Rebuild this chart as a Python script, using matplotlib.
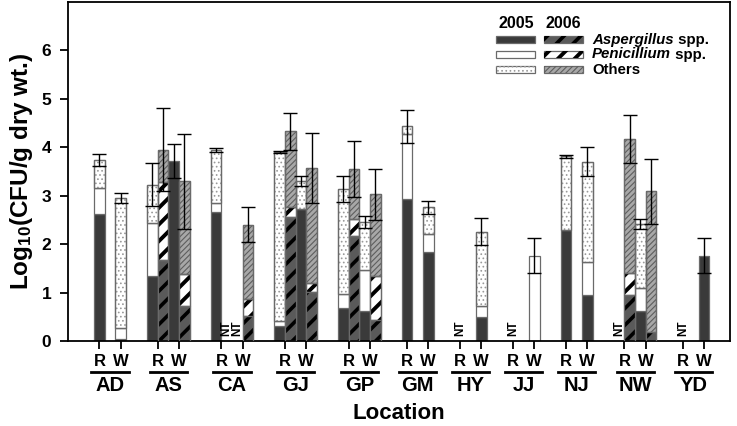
import numpy as np
import matplotlib.pyplot as plt
from matplotlib.patches import Rectangle
from matplotlib.lines import Line2D

plt.rcParams['font.family'] = ['Liberation Sans', 'DejaVu Sans']
plt.rcParams['font.weight'] = 'bold'
plt.rcParams['mathtext.fontset'] = 'custom'
plt.rcParams['mathtext.rm'] = 'Liberation Sans:bold'
plt.rcParams['mathtext.default'] = 'rm'

nan = np.nan
locations = ['AD', 'AS', 'CA', 'GJ', 'GP', 'GM', 'HY', 'JJ', 'NJ', 'NW', 'YD']
sites = ['R', 'W']

# order: AD-R, AD-W, AS-R, AS-W, ... (nan = no bar)
asp_2005 = [2.62, 0.05, 1.35, 3.71, 2.67, nan, 0.31, 2.73, 0.68, 0.61, 2.93,
            1.83, nan, 0.50, nan, 0.00, 2.30, 0.95, nan, 0.62, nan, 1.76]
pen_2005 = [0.54, 0.21, 1.08, 0.00, 0.18, nan, 0.10, 0.00, 0.29, 0.86, 1.35,
            0.38, nan, 0.23, nan, 1.76, 0.00, 0.69, nan, 0.48, nan, 0.00]
oth_2005 = [0.58, 2.69, 0.80, 0.00, 1.10, nan, 3.49, 0.57, 2.17, 0.99, 0.15,
            0.55, nan, 1.53, nan, 0.00, 1.51, 2.06, nan, 1.32, nan, 0.00]
err_2005 = [0.13, 0.10, 0.45, 0.35, 0.04, nan, 0.02, 0.10, 0.27, 0.13, 0.35,
            0.14, nan, 0.28, nan, 0.36, 0.03, 0.30, nan, 0.10, nan, 0.36]

asp_2006 = [nan, nan, 1.68, 0.72, nan, 0.52, 2.57, 1.02, 2.16, 0.43, nan,
            nan, nan, nan, nan, nan, nan, nan, 0.94, 0.19, nan, nan]
pen_2006 = [nan, nan, 1.60, 0.66, nan, 0.34, 0.19, 0.17, 0.36, 0.92, nan,
            nan, nan, nan, nan, nan, nan, nan, 0.47, 0.00, nan, nan]
oth_2006 = [nan, nan, 0.67, 1.92, nan, 1.54, 1.57, 2.38, 1.03, 1.68, nan,
            nan, nan, nan, nan, nan, nan, nan, 2.76, 2.90, nan, nan]
err_2006 = [nan, nan, 0.86, 0.98, nan, 0.36, 0.38, 0.73, 0.57, 0.53, nan,
            nan, nan, nan, nan, nan, nan, nan, 0.50, 0.67, nan, nan]

nt_2005 = ['CA-W', 'HY-R', 'JJ-R', 'NW-R', 'YD-R']
nt_2006 = ['CA-R']

keys = [f'{loc}-{s}' for loc in locations for s in sites]

# bar styles: (facecolor, hatch, hatch colour, hatch linewidth)
style = {
    ('2005', 'asp'): ('#3a3a3a', None, None, 0),
    ('2006', 'asp'): ('#5a5a5a', '//', 'black', 2.6),
    ('2005', 'pen'): ('white', None, None, 0),
    ('2006', 'pen'): ('white', '//', 'black', 2.8),
    ('2005', 'oth'): ('white', '....', '#9a9a9a', 0.7),
    ('2006', 'oth'): ('#a8a8a8', '//////', '#5e5e5e', 0.8),
}
edge = '#6a6a6a'

# layout of groups
two_year = []
for i, loc in enumerate(locations):
    has06 = any(not np.isnan(asp_2006[2 * i + j]) for j in range(2))
    has06 = has06 or any(f'{loc}-{s}' in nt_2006 for s in sites)
    two_year.append(has06)
half = [2.0 if t else 1.5 for t in two_year]
gap = 2.0
centers = [0.0]
for i in range(1, len(locations)):
    centers.append(centers[-1] + half[i - 1] + gap + half[i])

site_x = []
for c in centers:
    site_x += [c - 1, c + 1]

fig = plt.figure(figsize=(7.37, 4.26), dpi=100)
ax = fig.add_axes([68 / 737, 1 - 341 / 426, 661.5 / 737, 339 / 426])


def draw_part(x, h, b, key):
    fc, hatch, hc, hlw = style[key]
    ax.bar(x, h, bottom=b, width=1, color=fc, edgecolor=edge, linewidth=0.9, zorder=2)
    if hatch:
        with plt.rc_context({'hatch.linewidth': hlw}):
            bars = ax.bar(x, h, bottom=b, width=1, color='none', edgecolor=hc,
                          linewidth=0, hatch=hatch, zorder=2.5)
        for p in bars:
            if hasattr(p, 'set_hatch_linewidth'):
                p.set_hatch_linewidth(hlw)
        ax.bar(x, h, bottom=b, width=1, color='none', edgecolor=edge, linewidth=0.9, zorder=2.6)


series = {
    '2005': (asp_2005, pen_2005, oth_2005, err_2005, nt_2005, -0.5),
    '2006': (asp_2006, pen_2006, oth_2006, err_2006, nt_2006, 0.5),
}

for year, (asp, pen, oth, err, nts, off) in series.items():
    for k, key in enumerate(keys):
        li = k // 2
        x = site_x[k] + (off if two_year[li] else 0)
        if key in nts:
            ax.text(x, 0.1, 'NT', rotation=90, ha='center', va='bottom',
                    fontsize=8.5, fontweight='bold')
            continue
        if np.isnan(asp[k]):
            continue
        bottom = 0.0
        for part, val in zip(['asp', 'pen', 'oth'], [asp[k], pen[k], oth[k]]):
            if val > 0:
                draw_part(x, val, bottom, (year, part))
                bottom += val
        ax.errorbar(x, bottom, yerr=err[k], fmt='none', ecolor='black',
                    elinewidth=1, capsize=5, capthick=1, zorder=5)

ax.set_ylim(0, 7)
ax.set_xlim(centers[0] - 3.96, centers[-1] + 3.4)
ax.set_yticks(range(7))
ax.set_xticks(site_x)
ax.set_xticklabels(sites * len(locations))
ax.tick_params(axis='both', direction='out', length=6, width=1.3, labelsize=12.5, pad=3)
ax.tick_params(axis='y', pad=6)
ax.tick_params(axis='x', labelsize=12)
for s in ax.spines.values():
    s.set_linewidth(1.3)

for i, loc in enumerate(locations):
    ax.add_line(Line2D([site_x[2 * i] - 0.75, site_x[2 * i + 1] + 0.75], [-0.09, -0.09],
                       transform=ax.get_xaxis_transform(), color='black', lw=2,
                       clip_on=False))
    ax.text(centers[i], -0.13, loc, transform=ax.get_xaxis_transform(),
            ha='center', va='center', fontsize=14.5, fontweight='bold')

ax.text(0.5, -0.215, 'Location', transform=ax.transAxes, ha='center', va='center',
        fontsize=16, fontweight='bold')
ax.set_ylabel('Log$_{10}$(CFU/g dry wt.)', fontsize=17.5, fontweight='bold')
ax.yaxis.set_label_coords(-0.05, 0.5)

# legend drawn by hand (figure pixel coordinates)
W, H = 737, 426


def fx(px):
    return px / W


def fy(py):
    return 1 - py / H


fig.text(fx(516), fy(24), '2005', ha='center', va='center', fontsize=11.5, fontweight='bold')
fig.text(fx(563), fy(24), '2006', ha='center', va='center', fontsize=11.5, fontweight='bold')
rows = [('asp', 'Aspergillus', ' spp.'), ('pen', 'Penicillium', ' spp.'), ('oth', 'Others', '')]
row_y = [39.7, 54.5, 69.7]
fig.canvas.draw()
renderer = fig.canvas.get_renderer()
for (part, name, tail), yy in zip(rows, row_y):
    for year, x0 in [('2005', 496), ('2006', 544)]:
        fc, hatch, hc, hlw = style[(year, part)]
        fig.patches.append(Rectangle((fx(x0), fy(yy + 3.6)), 39 / W, 7.2 / H,
                                     transform=fig.transFigure, facecolor=fc,
                                     edgecolor=edge, linewidth=0.9))
        if hatch:
            with plt.rc_context({'hatch.linewidth': hlw}):
                r = Rectangle((fx(x0), fy(yy + 3.6)), 39 / W, 7.2 / H,
                              transform=fig.transFigure, facecolor='none',
                              edgecolor=hc, linewidth=0, hatch=hatch)
            if hasattr(r, 'set_hatch_linewidth'):
                r.set_hatch_linewidth(hlw)
            fig.patches.append(r)
    style_it = 'italic' if tail else 'normal'
    t = fig.text(fx(592), fy(yy), name, ha='left', va='center', fontsize=10.8,
                 fontweight='bold', fontstyle=style_it)
    if tail:
        bb = t.get_window_extent(renderer)
        fig.text(bb.x1 / fig.dpi / fig.get_figwidth(), fy(yy), tail, ha='left',
                 va='center', fontsize=10.8, fontweight='bold')

fig.savefig('out.png', dpi=100)
